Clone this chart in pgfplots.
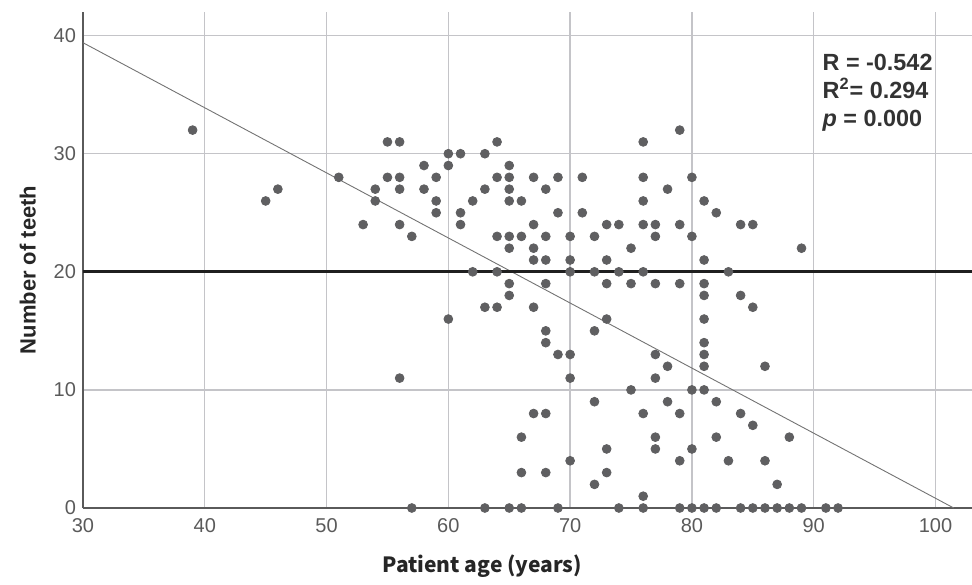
\documentclass[border=0pt]{standalone}
\usepackage{pgfplots}
\pgfplotsset{compat=1.18}
\usepackage{fontspec}
\setmainfont{Liberation Sans}
\newfontfamily\cjk{Noto Sans CJK KR}
\definecolor{dotgray}{RGB}{95,95,97}
\definecolor{gridgray}{RGB}{196,196,200}
\definecolor{axgray}{RGB}{90,90,90}
\definecolor{ticktext}{RGB}{90,90,90}

\pgfplotstableread{
age teeth
39 32
45 26
46 27
51 28
53 24
54 27
54 26
55 31
55 28
56 31
56 28
56 27
56 24
56 11
57 23
57 0
58 29
58 27
59 28
59 26
59 25
60 30
60 29
60 16
61 30
61 25
61 24
62 26
62 20
63 30
63 27
63 17
63 0
64 31
64 28
64 23
64 20
64 17
65 29
65 28
65 27
65 26
65 23
65 22
65 19
65 18
65 0
66 26
66 23
66 6
66 3
66 0
67 28
67 24
67 22
67 21
67 17
67 8
68 27
68 23
68 21
68 19
68 15
68 14
68 8
68 3
69 28
69 25
69 13
69 0
70 23
70 21
70 20
70 13
70 11
70 4
71 28
71 25
72 23
72 20
72 15
72 9
72 2
73 24
73 21
73 19
73 16
73 5
73 3
74 24
74 20
74 0
75 22
75 19
75 10
76 31
76 28
76 26
76 24
76 20
76 8
76 1
76 0
77 24
77 23
77 19
77 13
77 11
77 6
77 5
78 27
78 12
78 9
79 32
79 24
79 19
79 8
79 4
79 0
80 28
80 23
80 10
80 5
80 0
81 26
81 21
81 19
81 18
81 16
81 14
81 13
81 12
81 10
81 0
82 25
82 9
82 6
82 0
83 20
83 4
84 24
84 18
84 8
84 0
85 24
85 17
85 7
85 0
86 12
86 4
86 0
87 2
87 0
88 6
88 0
89 22
89 0
91 0
92 0
}\teethdata

\begin{document}
\begin{tikzpicture}
\begin{axis}[
scale only axis,width=444.5pt,height=248pt,
xmin=30,xmax=103,ymin=0,ymax=42,
xtick={30,40,...,100},ytick={0,10,...,40},
axis x line*=bottom,axis y line*=left,
axis line style={axgray,line width=0.8pt,-},
major tick length=0pt,
grid=major,major grid style={gridgray,line width=0.7pt},
tick label style={font=\fontsize{10}{11}\selectfont,text=ticktext},
xticklabel style={yshift=-1.5pt},
/pgf/number format/assume math mode=true,
xlabel={\cjk\bfseries Patient age (years)},
ylabel={\textbf{Number of teeth}},
xlabel style={at={(axis description cs:0.449,-0.117)},anchor=center,font=\fontsize{10.5}{12}\selectfont,text=black!85},
ylabel style={at={(axis description cs:-0.062,0.48)},anchor=center,font=\fontsize{11}{12}\selectfont,text=black!85},
clip=true,
]
\addplot[draw=gray!90!black,line width=0.45pt] coordinates {(30,39.4)(101.5,0)};
\addplot[draw=black!88,line width=1.4pt] coordinates {(30,20)(103,20)};
\addplot[only marks,mark=*,mark size=2.2pt,draw=dotgray,fill=dotgray] table[x=age,y=teeth] {\teethdata};
\node[anchor=north west,align=left,font=\fontsize{11.7}{14}\selectfont\bfseries,text=black!80,inner sep=0pt]
 at (axis cs:90.7,38.5) {R = -0.542\\R\textsuperscript{2}= 0.294\\\textit{p} = 0.000};
\end{axis}
\pgfresetboundingbox
\path (-41.5pt,-38pt) rectangle (444.5pt,254pt);
\end{tikzpicture}
\end{document}
